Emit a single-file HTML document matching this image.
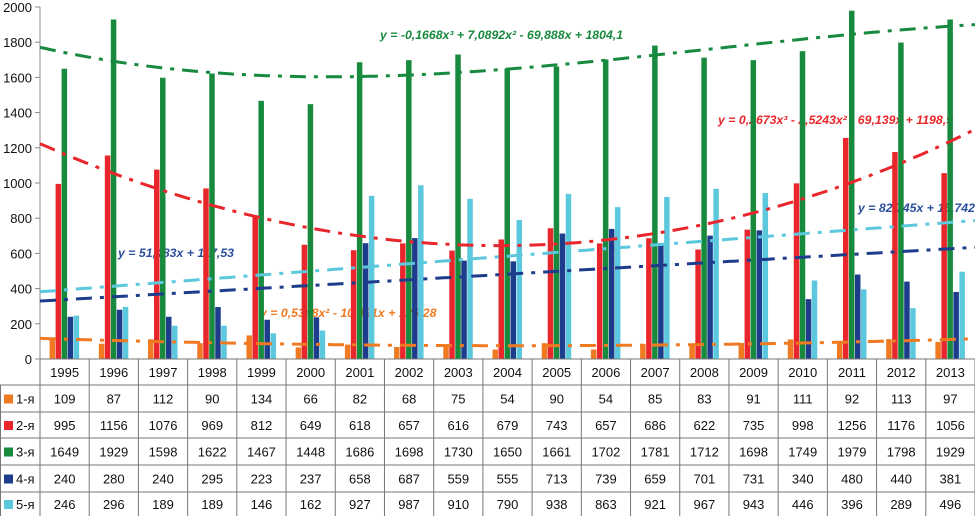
<!DOCTYPE html>
<html><head><meta charset="utf-8">
<style>
html,body{margin:0;padding:0;background:#fff;}
svg{display:block;font-family:"Liberation Sans",sans-serif;}
</style></head>
<body>
<svg id="chart" width="975" height="516" viewBox="0 0 975 516"></svg>
<script>
const years=["1995","1996","1997","1998","1999","2000","2001","2002","2003","2004","2005","2006","2007","2008","2009","2010","2011","2012","2013"];
const s1=[109,87,112,90,134,66,82,68,75,54,90,54,85,83,91,111,92,113,97];
const s2=[995,1156,1076,969,812,649,618,657,616,679,743,657,686,622,735,998,1256,1176,1056];
const s3=[1649,1929,1598,1622,1467,1448,1686,1698,1730,1650,1661,1702,1781,1712,1698,1749,1979,1798,1929];
const s4=[240,280,240,295,223,237,658,687,559,555,713,739,659,701,731,340,480,440,381];
const s5=[246,296,189,189,146,162,927,987,910,790,938,863,921,967,943,446,396,289,496];
const seriesNames=["1-я","2-я","3-я","4-я","5-я"];
const yTicks=[0,200,400,600,800,1000,1200,1400,1600,1800,2000];
const trendLabels=["y = 0,5348x² - 10,491x + 125,28","y = 0,2673x³ - 2,5243x² - 69,139x + 1198,9","y = -0,1668x³ + 7,0892x² - 69,888x + 1804,1","y = 51,483x + 117,53","y = 82,745x + 15,742"];
const trendOrders=[2,3,3,1,1];

const colors=["#f07a22","#e8262b","#178a3e","#1e3c8c","#5cc8de"];
const labelColors=["#f07a22","#e8262b","#178a3e","#2a4f9c","#2a4f9c"];
const labelPos=[[260,317],[718,124],[380,39],[118,257],[858,212]];
const svg=document.getElementById('chart');
const NS="http://www.w3.org/2000/svg";
const X0=40,X1=975,Y0=359,Y1=7,colW=(X1-X0)/years.length;
function yS(v){return Y0-(v/2000)*(Y0-Y1);}
function xC(i){return X0+colW*(i+0.5);}
function mk(tag,attrs,parent){const e=document.createElementNS(NS,tag);for(const k in attrs)e.setAttribute(k,attrs[k]);(parent||svg).appendChild(e);return e;}
const all=[s1,s2,s3,s4,s5];

const yAxis=mk('g',{});


mk('line',{x1:X0,y1:Y1,x2:X0,y2:Y0,stroke:'#888','stroke-width':1},yAxis);
yTicks.forEach(t=>{
  mk('line',{x1:X0-5,x2:X0,y1:yS(t),y2:yS(t),stroke:'#888'},yAxis);
  const tx=mk('text',{x:32,y:yS(t)+5,'text-anchor':'end','font-size':13,fill:'#111'},yAxis);
  tx.textContent=t;
  
  
});

trendLabels.forEach((t,k)=>{
  const tx=mk('text',{x:labelPos[k][0],y:labelPos[k][1],'font-size':12.3,'font-weight':'bold','font-style':'italic',fill:labelColors[k]});
  tx.textContent=t;
  
  
});

all.forEach((s,k)=>{
  const g=mk('g',{});
  
  
  s.forEach((v,i)=>{
    const x=xC(i)-15+k*6;
    const r=mk('rect',{x:x,y:yS(v),width:5.5,height:Y0-yS(v),fill:colors[k]},g);
    
    
  });
});

function polyfit(ys,ord){
  const n=ord+1,A=[],b=[];
  for(let r=0;r<n;r++){A.push(new Array(n).fill(0));b.push(0);}
  ys.forEach((y,i)=>{const x=i+1;for(let r=0;r<n;r++){for(let c=0;c<n;c++)A[r][c]+=Math.pow(x,r+c);b[r]+=y*Math.pow(x,r);}});
  for(let c=0;c<n;c++){let p=c;for(let r=c+1;r<n;r++)if(Math.abs(A[r][c])>Math.abs(A[p][c]))p=r;
    [A[c],A[p]]=[A[p],A[c]];[b[c],b[p]]=[b[p],b[c]];
    for(let r=0;r<n;r++){if(r===c)continue;const f=A[r][c]/A[c][c];for(let cc=c;cc<n;cc++)A[r][cc]-=f*A[c][cc];b[r]-=f*b[c];}}
  return b.map((v,i)=>v/A[i][i]);
}
all.forEach((s,k)=>{
  const co=polyfit(s,trendOrders[k]);
  let d='';
  for(let t=0.5;t<=19.5001;t+=0.1){
    let v=0;co.forEach((c,p)=>v+=c*Math.pow(t,p));
    const x=X0+colW*(t-0.5);
    d+=(d?'L':'M')+x.toFixed(1)+','+yS(v).toFixed(1);
  }
  const p=mk('path',{d:d,fill:'none',stroke:colors[k],'stroke-width':3,'stroke-dasharray':'16,8,4,8'});
  
  
});

const tbl=mk('g',{});


const rowY=[359,385,412,438,465,492,516];
for(let r=1;r<rowY.length-1;r++) mk('line',{x1:0,x2:X1,y1:rowY[r],y2:rowY[r],stroke:'#777'},tbl);
mk('line',{x1:X0,x2:X1,y1:Y0,y2:Y0,stroke:'#777'},tbl);
for(let i=0;i<=years.length;i++){const x=X0+colW*i;mk('line',{x1:x,x2:x,y1:Y0,y2:516,stroke:'#777'},tbl);}
mk('line',{x1:0.5,x2:0.5,y1:385,y2:516,stroke:'#777'},tbl);
years.forEach((y,i)=>{
  const t=mk('text',{x:xC(i),y:377,'text-anchor':'middle','font-size':13,fill:'#111'},tbl);
  t.textContent=y;
  
  
});
all.forEach((s,k)=>{
  const cy=(rowY[k+1]+rowY[k+2])/2;
  const sw=mk('rect',{x:4,y:cy-4,width:9,height:9,fill:colors[k]},tbl);
  
  
  const lt=mk('text',{x:16,y:cy+5,'font-size':13,fill:'#111'},tbl);
  lt.textContent=seriesNames[k];
  
  
  s.forEach((v,i)=>{
    const t=mk('text',{x:xC(i),y:cy+5,'text-anchor':'middle','font-size':13,fill:'#111'},tbl);
    t.textContent=v;
    
    
  });
});
</script>
</body></html>
